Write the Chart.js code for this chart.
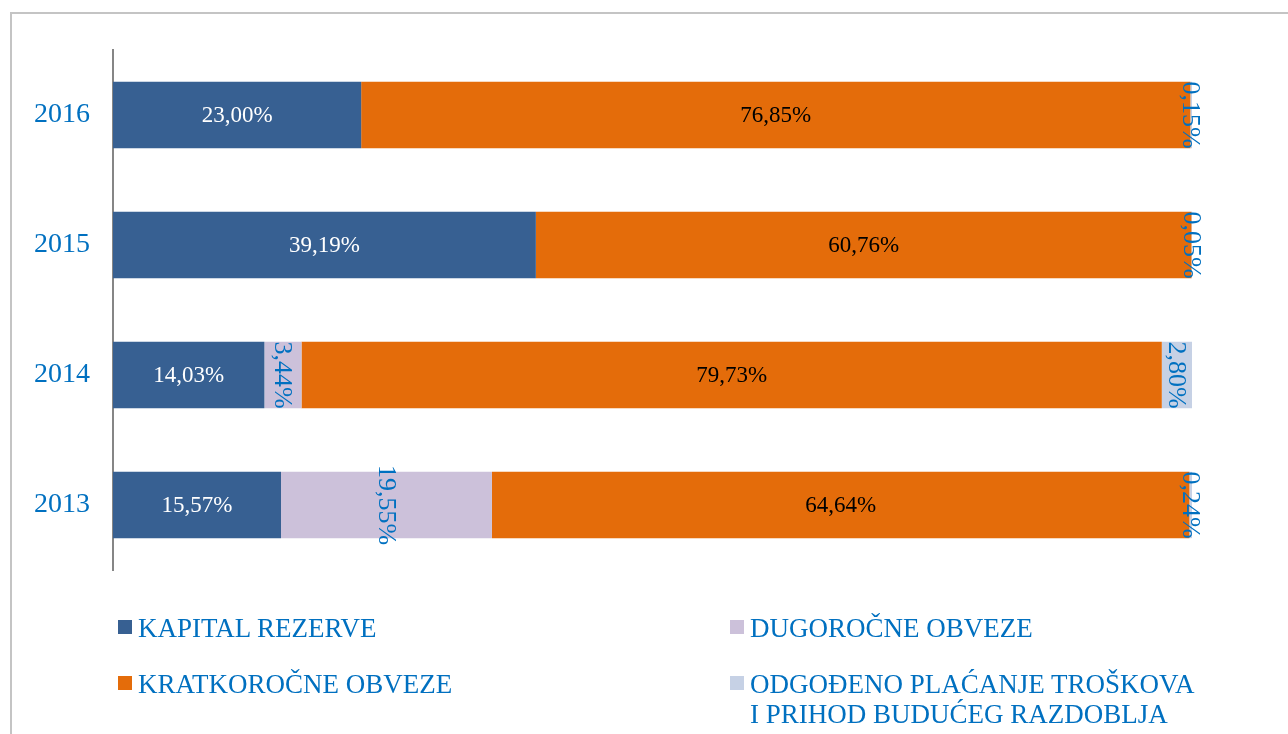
<!DOCTYPE html>
<html>
<head>
<meta charset="utf-8">
<script src="https://cdn.jsdelivr.net/npm/chart.js@4/dist/chart.umd.min.js"></script>
<style>
  html, body { margin: 0; padding: 0; background: #fff; overflow: hidden; }
  #wrap { position: relative; width: 1288px; height: 734px; }
  #frame { position: absolute; left: 10px; top: 12px; width: 1300px; height: 760px;
           border-left: 2px solid #c4c4c4; border-top: 2px solid #c4c4c4; box-sizing: border-box; }
  #c { position: absolute; left: 0; top: 0; }
  .lg { position: absolute; font-family: "Liberation Serif", "Times New Roman", serif;
        font-size: 27px; line-height: 30px; color: #0070c0; }
  .lg .sw { position: absolute; left: 0; top: 7px; width: 14px; height: 14px; }
  .lg .tx { position: absolute; left: 20px; top: 0; white-space: normal; }
</style>
</head>
<body>
<div id="wrap">
  <div id="frame"></div>
  <canvas id="c" width="1288" height="734"></canvas>
  <div id="legend"></div>
</div>
<script>
const categories = ['2016', '2015', '2014', '2013'];
const seriesNames = ['KAPITAL REZERVE', 'DUGOROČNE OBVEZE', 'KRATKOROČNE OBVEZE', 'ODGOĐENO PLAĆANJE TROŠKOVA I PRIHOD BUDUĆEG RAZDOBLJA'];
const kapitalRezerve = [23.00, 39.19, 14.03, 15.57];
const dugorocneObveze = [0, 0, 3.44, 19.55];
const kratkorocneObveze = [76.85, 60.76, 79.73, 64.64];
const odgodenoPlacanje = [0.15, 0.05, 2.80, 0.24];

const colors = ['#376092', '#ccc1da', '#e46c0a', '#c6d1e5'];
const labelColors = ['#ffffff', '#0070c0', '#000000', '#0070c0'];
const labelRotated = [false, true, false, true];
const FONT = '"Liberation Serif", "Times New Roman", serif';

const seriesData = [kapitalRezerve, dugorocneObveze, kratkorocneObveze, odgodenoPlacanje];

const labelPlugin = {
  id: 'segLabels',
  afterDatasetsDraw(chart) {
    const ctx = chart.ctx;
    chart.data.datasets.forEach((ds, di) => {
      const meta = chart.getDatasetMeta(di);
      meta.data.forEach((el, i) => {
        const v = ds.data[i];
        if (!v) return;
        const txt = v.toFixed(2).replace('.', ',') + '%';
        const cx = (el.x + el.base) / 2;
        const cy = el.y;
        ctx.save();
        ctx.font = (labelRotated[di] ? '26px ' : '23px ') + FONT;
        ctx.fillStyle = labelColors[di];
        ctx.textAlign = 'center';
        ctx.textBaseline = 'middle';
        ctx.translate(cx, cy);
        if (labelRotated[di]) ctx.rotate(Math.PI / 2);
        ctx.fillText(txt, 0, 1);
        ctx.restore();
      });
    });
  }
};

new Chart(document.getElementById('c'), {
  type: 'bar',
  data: {
    labels: categories,
    datasets: seriesData.map((d, i) => ({
      label: seriesNames[i],
      data: d,
      backgroundColor: colors[i],
      borderWidth: 0,
      categoryPercentage: 1,
      barPercentage: 0.51
    }))
  },
  options: {
    indexAxis: 'y',
    responsive: false,
    animation: false,
    devicePixelRatio: 1,
    layout: { padding: { top: 50, bottom: 164, left: 0, right: 96 } },
    plugins: { legend: { display: false }, tooltip: { enabled: false } },
    scales: {
      x: { stacked: true, min: 0, max: 100, display: false },
      y: {
        stacked: true,
        grid: { display: false, drawTicks: false },
        border: { display: true, color: '#868686', width: 2 },
        ticks: { color: '#0070c0', font: { family: FONT, size: 28 }, padding: 23 },
        afterFit(scale) { scale.width = 113; }
      }
    }
  },
  plugins: [labelPlugin]
});

// HTML legend built from series names/colors
const legendPos = [
  { left: 118, top: 613 },
  { left: 730, top: 613 },
  { left: 118, top: 669 },
  { left: 730, top: 669 }
];
const legendOrder = [0, 1, 2, 3];
const lg = document.getElementById('legend');
legendOrder.forEach((si, k) => {
  const d = document.createElement('div');
  d.className = 'lg';
  d.style.left = legendPos[k].left + 'px';
  d.style.top = legendPos[k].top + 'px';
  const sw = document.createElement('span');
  sw.className = 'sw';
  sw.style.background = colors[si];
  const tx = document.createElement('span');
  tx.className = 'tx';
  tx.style.width = '448px';
  tx.textContent = seriesNames[si];
  d.appendChild(sw);
  d.appendChild(tx);
  lg.appendChild(d);
});
</script>
</body>
</html>
